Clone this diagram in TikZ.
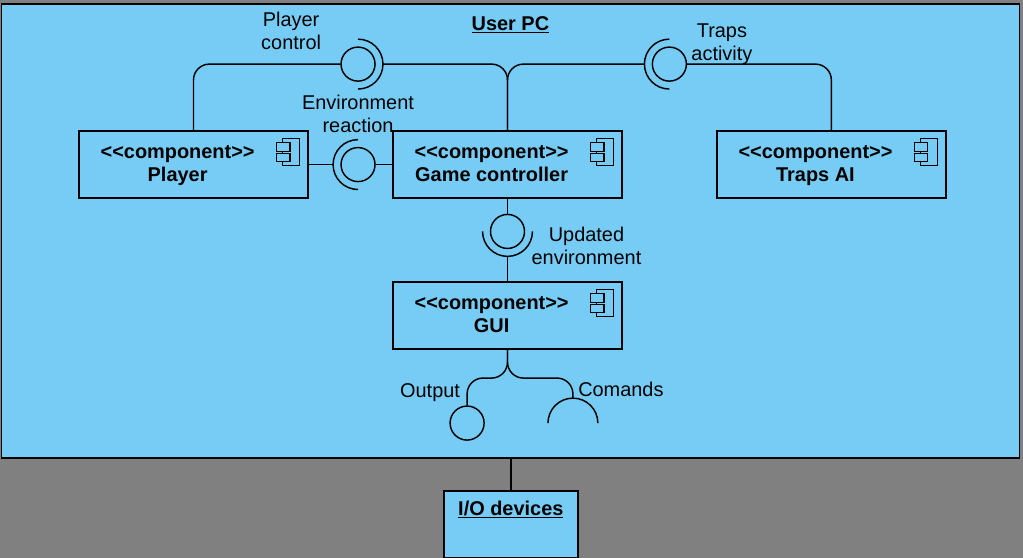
\documentclass[tikz,border=0pt]{standalone}
\usepackage{fontspec}
\setmainfont{Liberation Sans}
\usepackage{xcolor}
\usetikzlibrary{positioning}
\definecolor{skyfill}{RGB}{119,204,245}
\definecolor{backgray}{RGB}{128,128,128}
\newcommand{\cname}[1]{\rule{0pt}{11.5pt}<\kern0pt<component>\kern0pt>\hspace*{.84cm}\\\vphantom{y}#1\hspace*{.84cm}}
\newcommand{\compicon}[1]{%
  \draw[icon] ([shift={(-.69,-.21)}]#1.north east) rectangle ([shift={(-.24,-.93)}]#1.north east);
  \draw[icon] ([shift={(-.85,-.32)}]#1.north east) rectangle ([shift={(-.5,-.56)}]#1.north east);
  \draw[icon] ([shift={(-.85,-.61)}]#1.north east) rectangle ([shift={(-.5,-.82)}]#1.north east);
}

\begin{document}
\begin{tikzpicture}[
  frame/.style={draw, line width=1.1pt, fill=skyfill, minimum width=26.93cm, minimum height=12.01cm, inner sep=0},
  comp/.style={draw, line width=1.4pt, fill=skyfill, minimum width=6.06cm, minimum height=1.77cm, align=center, inner sep=0, font=\fontsize{15}{17.25}\selectfont\bfseries},
  unit/.style={draw, line width=1.4pt, fill=skyfill, minimum width=3.55cm, minimum height=1.77cm, inner sep=0},
  iface/.style={draw, circle, line width=1.1pt, minimum size=.9cm, inner sep=0},
  note/.style={align=center, inner sep=0, font=\fontsize{15}{17.25}\selectfont},
  heading/.style={inner sep=0, font=\fontsize{15}{17.25}\selectfont\bfseries},
  wire/.style={line width=1.1pt, rounded corners=.42cm},
  icon/.style={line width=.9pt, fill=skyfill}
]
\useasboundingbox[fill=backgray] (0,0) rectangle (27.07,14.765);

\node[frame] (pcframe) at (13.507,8.652) {};
\node[heading] (pctitle) at ([yshift=5.45cm]pcframe.center) {\underline{User PC}};

\node[comp] (player) at (5.12,10.41) {\cname{Player}};
\node[comp, right=2.2cm of player] (game) {\cname{Game controller}};
\node[comp, right=2.46cm of game] (traps) {\cname{Traps AI}};
\node[comp, below=2.18cm of game] (gui) {\cname{GUI}};
\compicon{player}
\compicon{game}
\compicon{traps}
\compicon{gui}

\node[iface, right=.83cm of player] (envif) {};
\node[iface, above=1.72cm of envif] (ctrlif) {};
\node[iface, right=7.3cm of ctrlif] (trapsif) {};
\node[iface, below=.39cm of game] (updif) {};
\node[iface] (outif) at (12.36,3.57) {};
\coordinate (cmdif) at (15.16,3.57);

\coordinate (ctrlarc) at ([xshift=.66cm]ctrlif.center);
\coordinate (trapsarc) at ([xshift=-.66cm]trapsif.center);
\coordinate (envarc) at ([xshift=-.66cm]envif.center);
\coordinate (updarc) at ([yshift=-.66cm]updif.center);
\coordinate (cmdarc) at ([yshift=.66cm]cmdif);
\coordinate (fork) at ([yshift=-.74cm]gui.south);

\draw[line width=1.1pt] ([yshift=.66cm]ctrlif.center) arc[start angle=90, end angle=-90, radius=.66cm];
\draw[line width=1.1pt] ([yshift=.66cm]trapsif.center) arc[start angle=90, end angle=270, radius=.66cm];
\draw[line width=1.1pt] ([yshift=.66cm]envif.center) arc[start angle=90, end angle=270, radius=.66cm];
\draw[line width=1.1pt] ([xshift=-.66cm]updif.center) arc[start angle=180, end angle=360, radius=.66cm];
\draw[line width=1.1pt] ([xshift=-.66cm]cmdif) arc[start angle=180, end angle=0, radius=.66cm];

\draw[wire] (player.north) |- (ctrlif.west);
\draw[wire] (ctrlarc) -| (game.north);
\draw[wire] (game.north) |- (trapsarc);
\draw[wire] (trapsif.east) -| (traps.north);
\draw[wire] (player.east) -- (envarc);
\draw[wire] (envif.east) -- (game.west);
\draw[wire] (game.south) -- (updif.north);
\draw[wire] (updarc) -- (gui.north);
\draw[wire] (gui.south) -- (fork) -| (outif.north);
\draw[wire] (gui.south) -- (fork) -| (cmdarc);

\node[note] (ctrlnote) at ([shift={(-1.77,.87)}]ctrlif.center) {Player\\control};
\node[note] (envnote) at ([yshift=1.34cm]envif.center) {Environment\\reaction};
\node[note] (trapsnote) at ([shift={(1.39,.53)}]trapsif.center) {Traps\\activity};
\node[note] (updnote) at ([shift={(2.09,-.39)}]updif.center) {Updated\\environment};
\node[note] (outnote) at ([shift={(-.98,.8)}]outif.center) {Output};
\node[note] (cmdnote) at ([shift={(1.27,.9)}]cmdif) {Comands};

\node[unit, below=.84cm of pcframe.south, xshift=.01cm] (io) {};
\node[heading] (iotitle) at ([yshift=-.5cm]io.north) {\underline{I/O devices}};
\draw[line width=1.1pt] (io.north) -- (io.north |- pcframe.south);
\end{tikzpicture}
\end{document}
